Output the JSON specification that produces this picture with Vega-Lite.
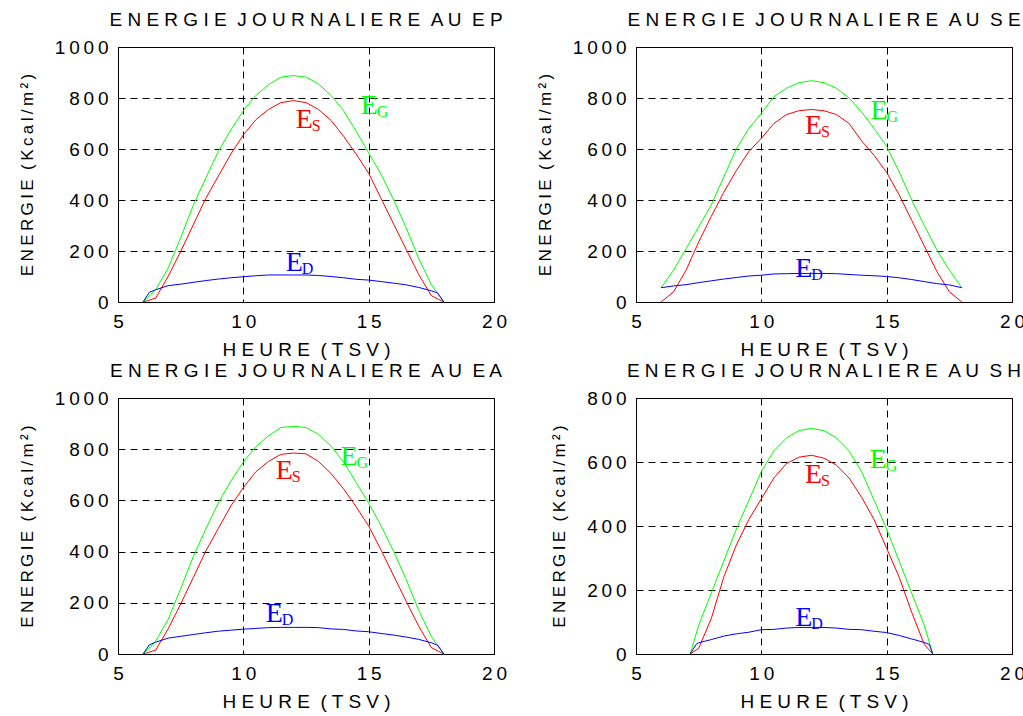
{
"$schema":"https://vega.github.io/schema/vega-lite/v6.json",
"background":"white",
"padding":{"left":17,"top":10,"right":5,"bottom":0},
"bounds":"flush",
"columns":2,
"spacing":{"row":96,"column":142},
"datasets":{
"curves":[
{"p":"EP","s":"ES","h":6,"v":0},{"p":"EP","s":"ES","h":6.5,"v":15},{"p":"EP","s":"ES","h":7,"v":100},{"p":"EP","s":"ES","h":7.5,"v":198},{"p":"EP","s":"ES","h":8,"v":302},{"p":"EP","s":"ES","h":8.5,"v":406},{"p":"EP","s":"ES","h":9,"v":493},{"p":"EP","s":"ES","h":9.5,"v":580},{"p":"EP","s":"ES","h":10,"v":655},{"p":"EP","s":"ES","h":10.5,"v":715},{"p":"EP","s":"ES","h":11,"v":755},{"p":"EP","s":"ES","h":11.5,"v":782},{"p":"EP","s":"ES","h":12,"v":790},{"p":"EP","s":"ES","h":12.5,"v":782},{"p":"EP","s":"ES","h":13,"v":755},{"p":"EP","s":"ES","h":13.5,"v":712},{"p":"EP","s":"ES","h":14,"v":650},{"p":"EP","s":"ES","h":14.5,"v":580},{"p":"EP","s":"ES","h":15,"v":505},{"p":"EP","s":"ES","h":15.5,"v":405},{"p":"EP","s":"ES","h":16,"v":305},{"p":"EP","s":"ES","h":16.5,"v":206},{"p":"EP","s":"ES","h":17,"v":107},{"p":"EP","s":"ES","h":17.5,"v":25},{"p":"EP","s":"ES","h":18,"v":0},
{"p":"EP","s":"EG","h":6,"v":0},{"p":"EP","s":"EG","h":6.5,"v":48},{"p":"EP","s":"EG","h":7,"v":133},{"p":"EP","s":"EG","h":7.5,"v":252},{"p":"EP","s":"EG","h":8,"v":378},{"p":"EP","s":"EG","h":8.5,"v":486},{"p":"EP","s":"EG","h":9,"v":590},{"p":"EP","s":"EG","h":9.5,"v":675},{"p":"EP","s":"EG","h":10,"v":750},{"p":"EP","s":"EG","h":10.5,"v":810},{"p":"EP","s":"EG","h":11,"v":852},{"p":"EP","s":"EG","h":11.5,"v":882},{"p":"EP","s":"EG","h":12,"v":888},{"p":"EP","s":"EG","h":12.5,"v":882},{"p":"EP","s":"EG","h":13,"v":855},{"p":"EP","s":"EG","h":13.5,"v":810},{"p":"EP","s":"EG","h":14,"v":750},{"p":"EP","s":"EG","h":14.5,"v":670},{"p":"EP","s":"EG","h":15,"v":585},{"p":"EP","s":"EG","h":15.5,"v":500},{"p":"EP","s":"EG","h":16,"v":400},{"p":"EP","s":"EG","h":16.5,"v":290},{"p":"EP","s":"EG","h":17,"v":170},{"p":"EP","s":"EG","h":17.5,"v":68},{"p":"EP","s":"EG","h":18,"v":0},
{"p":"EP","s":"ED","h":6,"v":0},{"p":"EP","s":"ED","h":6.25,"v":38},{"p":"EP","s":"ED","h":6.5,"v":48},{"p":"EP","s":"ED","h":7,"v":64},{"p":"EP","s":"ED","h":7.5,"v":70},{"p":"EP","s":"ED","h":8,"v":77},{"p":"EP","s":"ED","h":8.5,"v":84},{"p":"EP","s":"ED","h":9,"v":90},{"p":"EP","s":"ED","h":9.5,"v":95},{"p":"EP","s":"ED","h":10,"v":99},{"p":"EP","s":"ED","h":10.5,"v":103},{"p":"EP","s":"ED","h":11,"v":106},{"p":"EP","s":"ED","h":11.5,"v":106},{"p":"EP","s":"ED","h":12,"v":106},{"p":"EP","s":"ED","h":12.5,"v":106},{"p":"EP","s":"ED","h":13,"v":104},{"p":"EP","s":"ED","h":13.5,"v":100},{"p":"EP","s":"ED","h":14,"v":95},{"p":"EP","s":"ED","h":14.5,"v":89},{"p":"EP","s":"ED","h":15,"v":86},{"p":"EP","s":"ED","h":15.5,"v":80},{"p":"EP","s":"ED","h":16,"v":74},{"p":"EP","s":"ED","h":16.5,"v":67},{"p":"EP","s":"ED","h":17,"v":57},{"p":"EP","s":"ED","h":17.5,"v":44},{"p":"EP","s":"ED","h":17.75,"v":35},{"p":"EP","s":"ED","h":18,"v":0},
{"p":"SE","s":"EG","h":6,"v":56},{"p":"SE","s":"EG","h":6.5,"v":125},{"p":"SE","s":"EG","h":7,"v":210},{"p":"SE","s":"EG","h":7.5,"v":295},{"p":"SE","s":"EG","h":8,"v":380},{"p":"SE","s":"EG","h":8.5,"v":490},{"p":"SE","s":"EG","h":9,"v":600},{"p":"SE","s":"EG","h":9.5,"v":680},{"p":"SE","s":"EG","h":10,"v":740},{"p":"SE","s":"EG","h":10.5,"v":805},{"p":"SE","s":"EG","h":11,"v":838},{"p":"SE","s":"EG","h":11.5,"v":860},{"p":"SE","s":"EG","h":12,"v":868},{"p":"SE","s":"EG","h":12.5,"v":860},{"p":"SE","s":"EG","h":13,"v":838},{"p":"SE","s":"EG","h":13.5,"v":800},{"p":"SE","s":"EG","h":14,"v":745},{"p":"SE","s":"EG","h":14.5,"v":680},{"p":"SE","s":"EG","h":15,"v":610},{"p":"SE","s":"EG","h":15.5,"v":510},{"p":"SE","s":"EG","h":16,"v":400},{"p":"SE","s":"EG","h":16.5,"v":300},{"p":"SE","s":"EG","h":17,"v":205},{"p":"SE","s":"EG","h":17.5,"v":125},{"p":"SE","s":"EG","h":18,"v":56},
{"p":"SE","s":"ES","h":6,"v":0},{"p":"SE","s":"ES","h":6.5,"v":40},{"p":"SE","s":"ES","h":7,"v":125},{"p":"SE","s":"ES","h":7.5,"v":235},{"p":"SE","s":"ES","h":8,"v":335},{"p":"SE","s":"ES","h":8.5,"v":430},{"p":"SE","s":"ES","h":9,"v":515},{"p":"SE","s":"ES","h":9.5,"v":590},{"p":"SE","s":"ES","h":10,"v":642},{"p":"SE","s":"ES","h":10.5,"v":700},{"p":"SE","s":"ES","h":11,"v":735},{"p":"SE","s":"ES","h":11.5,"v":750},{"p":"SE","s":"ES","h":12,"v":755},{"p":"SE","s":"ES","h":12.5,"v":750},{"p":"SE","s":"ES","h":13,"v":735},{"p":"SE","s":"ES","h":13.5,"v":700},{"p":"SE","s":"ES","h":14,"v":632},{"p":"SE","s":"ES","h":14.5,"v":575},{"p":"SE","s":"ES","h":15,"v":508},{"p":"SE","s":"ES","h":15.5,"v":420},{"p":"SE","s":"ES","h":16,"v":320},{"p":"SE","s":"ES","h":16.5,"v":220},{"p":"SE","s":"ES","h":17,"v":120},{"p":"SE","s":"ES","h":17.5,"v":40},{"p":"SE","s":"ES","h":18,"v":0},
{"p":"SE","s":"ED","h":6,"v":56},{"p":"SE","s":"ED","h":6.5,"v":63},{"p":"SE","s":"ED","h":7,"v":68},{"p":"SE","s":"ED","h":7.5,"v":76},{"p":"SE","s":"ED","h":8,"v":83},{"p":"SE","s":"ED","h":8.5,"v":90},{"p":"SE","s":"ED","h":9,"v":96},{"p":"SE","s":"ED","h":9.5,"v":102},{"p":"SE","s":"ED","h":10,"v":105},{"p":"SE","s":"ED","h":10.5,"v":110},{"p":"SE","s":"ED","h":11,"v":111},{"p":"SE","s":"ED","h":11.5,"v":112},{"p":"SE","s":"ED","h":12,"v":112},{"p":"SE","s":"ED","h":12.5,"v":112},{"p":"SE","s":"ED","h":13,"v":111},{"p":"SE","s":"ED","h":13.5,"v":108},{"p":"SE","s":"ED","h":14,"v":105},{"p":"SE","s":"ED","h":14.5,"v":103},{"p":"SE","s":"ED","h":15,"v":100},{"p":"SE","s":"ED","h":15.5,"v":95},{"p":"SE","s":"ED","h":16,"v":88},{"p":"SE","s":"ED","h":16.5,"v":80},{"p":"SE","s":"ED","h":17,"v":72},{"p":"SE","s":"ED","h":17.5,"v":67},{"p":"SE","s":"ED","h":18,"v":56},
{"p":"EA","s":"ES","h":6,"v":0},{"p":"EA","s":"ES","h":6.5,"v":15},{"p":"EA","s":"ES","h":7,"v":98},{"p":"EA","s":"ES","h":7.5,"v":195},{"p":"EA","s":"ES","h":8,"v":298},{"p":"EA","s":"ES","h":8.5,"v":402},{"p":"EA","s":"ES","h":9,"v":490},{"p":"EA","s":"ES","h":9.5,"v":578},{"p":"EA","s":"ES","h":10,"v":650},{"p":"EA","s":"ES","h":10.5,"v":712},{"p":"EA","s":"ES","h":11,"v":752},{"p":"EA","s":"ES","h":11.5,"v":780},{"p":"EA","s":"ES","h":12,"v":785},{"p":"EA","s":"ES","h":12.5,"v":782},{"p":"EA","s":"ES","h":13,"v":752},{"p":"EA","s":"ES","h":13.5,"v":705},{"p":"EA","s":"ES","h":14,"v":645},{"p":"EA","s":"ES","h":14.5,"v":575},{"p":"EA","s":"ES","h":15,"v":500},{"p":"EA","s":"ES","h":15.5,"v":405},{"p":"EA","s":"ES","h":16,"v":305},{"p":"EA","s":"ES","h":16.5,"v":205},{"p":"EA","s":"ES","h":17,"v":108},{"p":"EA","s":"ES","h":17.5,"v":25},{"p":"EA","s":"ES","h":18,"v":0},
{"p":"EA","s":"EG","h":6,"v":0},{"p":"EA","s":"EG","h":6.5,"v":50},{"p":"EA","s":"EG","h":7,"v":135},{"p":"EA","s":"EG","h":7.5,"v":255},{"p":"EA","s":"EG","h":8,"v":380},{"p":"EA","s":"EG","h":8.5,"v":488},{"p":"EA","s":"EG","h":9,"v":590},{"p":"EA","s":"EG","h":9.5,"v":675},{"p":"EA","s":"EG","h":10,"v":750},{"p":"EA","s":"EG","h":10.5,"v":810},{"p":"EA","s":"EG","h":11,"v":852},{"p":"EA","s":"EG","h":11.5,"v":885},{"p":"EA","s":"EG","h":12,"v":889},{"p":"EA","s":"EG","h":12.5,"v":885},{"p":"EA","s":"EG","h":13,"v":858},{"p":"EA","s":"EG","h":13.5,"v":812},{"p":"EA","s":"EG","h":14,"v":750},{"p":"EA","s":"EG","h":14.5,"v":670},{"p":"EA","s":"EG","h":15,"v":590},{"p":"EA","s":"EG","h":15.5,"v":500},{"p":"EA","s":"EG","h":16,"v":400},{"p":"EA","s":"EG","h":16.5,"v":290},{"p":"EA","s":"EG","h":17,"v":170},{"p":"EA","s":"EG","h":17.5,"v":68},{"p":"EA","s":"EG","h":18,"v":0},
{"p":"EA","s":"ED","h":6,"v":0},{"p":"EA","s":"ED","h":6.25,"v":36},{"p":"EA","s":"ED","h":6.5,"v":46},{"p":"EA","s":"ED","h":7,"v":62},{"p":"EA","s":"ED","h":7.5,"v":69},{"p":"EA","s":"ED","h":8,"v":76},{"p":"EA","s":"ED","h":8.5,"v":83},{"p":"EA","s":"ED","h":9,"v":89},{"p":"EA","s":"ED","h":9.5,"v":93},{"p":"EA","s":"ED","h":10,"v":97},{"p":"EA","s":"ED","h":10.5,"v":100},{"p":"EA","s":"ED","h":11,"v":103},{"p":"EA","s":"ED","h":11.5,"v":104},{"p":"EA","s":"ED","h":12,"v":104},{"p":"EA","s":"ED","h":12.5,"v":104},{"p":"EA","s":"ED","h":13,"v":103},{"p":"EA","s":"ED","h":13.5,"v":98},{"p":"EA","s":"ED","h":14,"v":96},{"p":"EA","s":"ED","h":14.5,"v":90},{"p":"EA","s":"ED","h":15,"v":87},{"p":"EA","s":"ED","h":15.5,"v":80},{"p":"EA","s":"ED","h":16,"v":74},{"p":"EA","s":"ED","h":16.5,"v":66},{"p":"EA","s":"ED","h":17,"v":57},{"p":"EA","s":"ED","h":17.5,"v":44},{"p":"EA","s":"ED","h":17.75,"v":34},{"p":"EA","s":"ED","h":18,"v":0},
{"p":"SH","s":"EG","h":7.16,"v":0},{"p":"SH","s":"EG","h":7.5,"v":90},{"p":"SH","s":"EG","h":8,"v":190},{"p":"SH","s":"EG","h":8.5,"v":290},{"p":"SH","s":"EG","h":9,"v":390},{"p":"SH","s":"EG","h":9.5,"v":480},{"p":"SH","s":"EG","h":10,"v":570},{"p":"SH","s":"EG","h":10.5,"v":635},{"p":"SH","s":"EG","h":11,"v":675},{"p":"SH","s":"EG","h":11.5,"v":698},{"p":"SH","s":"EG","h":12,"v":705},{"p":"SH","s":"EG","h":12.5,"v":698},{"p":"SH","s":"EG","h":13,"v":675},{"p":"SH","s":"EG","h":13.5,"v":635},{"p":"SH","s":"EG","h":14,"v":570},{"p":"SH","s":"EG","h":14.5,"v":480},{"p":"SH","s":"EG","h":15,"v":390},{"p":"SH","s":"EG","h":15.5,"v":290},{"p":"SH","s":"EG","h":16,"v":190},{"p":"SH","s":"EG","h":16.5,"v":90},{"p":"SH","s":"EG","h":16.84,"v":0},
{"p":"SH","s":"ES","h":7.16,"v":0},{"p":"SH","s":"ES","h":7.5,"v":18},{"p":"SH","s":"ES","h":8,"v":110},{"p":"SH","s":"ES","h":8.5,"v":240},{"p":"SH","s":"ES","h":9,"v":340},{"p":"SH","s":"ES","h":9.5,"v":420},{"p":"SH","s":"ES","h":10,"v":485},{"p":"SH","s":"ES","h":10.5,"v":550},{"p":"SH","s":"ES","h":11,"v":595},{"p":"SH","s":"ES","h":11.5,"v":615},{"p":"SH","s":"ES","h":12,"v":621},{"p":"SH","s":"ES","h":12.5,"v":612},{"p":"SH","s":"ES","h":13,"v":590},{"p":"SH","s":"ES","h":13.5,"v":550},{"p":"SH","s":"ES","h":14,"v":490},{"p":"SH","s":"ES","h":14.5,"v":420},{"p":"SH","s":"ES","h":15,"v":330},{"p":"SH","s":"ES","h":15.5,"v":240},{"p":"SH","s":"ES","h":16,"v":130},{"p":"SH","s":"ES","h":16.5,"v":30},{"p":"SH","s":"ES","h":16.84,"v":0},
{"p":"SH","s":"ED","h":7.16,"v":0},{"p":"SH","s":"ED","h":7.4,"v":30},{"p":"SH","s":"ED","h":7.5,"v":35},{"p":"SH","s":"ED","h":8,"v":45},{"p":"SH","s":"ED","h":8.5,"v":56},{"p":"SH","s":"ED","h":9,"v":63},{"p":"SH","s":"ED","h":9.5,"v":68},{"p":"SH","s":"ED","h":10,"v":76},{"p":"SH","s":"ED","h":10.5,"v":77},{"p":"SH","s":"ED","h":11,"v":81},{"p":"SH","s":"ED","h":11.5,"v":83},{"p":"SH","s":"ED","h":12,"v":83},{"p":"SH","s":"ED","h":12.5,"v":83},{"p":"SH","s":"ED","h":13,"v":81},{"p":"SH","s":"ED","h":13.5,"v":77},{"p":"SH","s":"ED","h":14,"v":76},{"p":"SH","s":"ED","h":14.5,"v":71},{"p":"SH","s":"ED","h":15,"v":67},{"p":"SH","s":"ED","h":15.5,"v":58},{"p":"SH","s":"ED","h":16,"v":47},{"p":"SH","s":"ED","h":16.5,"v":36},{"p":"SH","s":"ED","h":16.7,"v":30},{"p":"SH","s":"ED","h":16.84,"v":0}
],
"labels":[
{"p":"EP","s":"EG","main":"E","sub":"G","h":14.68,"v":738},{"p":"EP","s":"ES","main":"E","sub":"S","h":12.09,"v":681},{"p":"EP","s":"ED","main":"E","sub":"D","h":11.69,"v":122},
{"p":"SE","s":"EG","main":"E","sub":"G","h":14.36,"v":716},{"p":"SE","s":"ES","main":"E","sub":"S","h":11.74,"v":659},{"p":"SE","s":"ED","main":"E","sub":"D","h":11.35,"v":100},
{"p":"EA","s":"EG","main":"E","sub":"G","h":13.88,"v":738},{"p":"EA","s":"ES","main":"E","sub":"S","h":11.29,"v":682},{"p":"EA","s":"ED","main":"E","sub":"D","h":10.89,"v":126},
{"p":"SH","s":"EG","main":"E","sub":"G","h":14.33,"v":580},{"p":"SH","s":"ES","main":"E","sub":"S","h":11.74,"v":535},{"p":"SH","s":"ED","main":"E","sub":"D","h":11.35,"v":88}
]
},
"concat":[
{"title":{"text":"E N E R G I E\u00a0\u00a0J O U R N A L I E R E\u00a0\u00a0A U\u00a0\u00a0E P"},"width":376,"height":255,
"layer":[
{"data":{"name":"curves"},"transform":[{"filter":"datum.p==='EP'"}],"mark":{"type":"line","strokeWidth":1},
"encoding":{"x":{"field":"h","type":"quantitative","scale":{"domain":[5,20],"nice":false,"zero":false},"axis":{"values":[5,10,15,20],"format":"d","labelExpr":"join(split(datum.label,''),'\u2009')","title":"H E U R E\u00a0\u00a0( T S V )"}},
"y":{"field":"v","type":"quantitative","scale":{"domain":[0,1000],"nice":false},"axis":{"values":[0,200,400,600,800,1000],"format":"d","labelExpr":"join(split(datum.label,''),'\u2009')","title":"E\u2009N\u2009E\u2009R\u2009G\u2009I\u2009E\u00a0\u00a0(\u2009K\u2009c\u2009a\u2009l\u2009/\u2009m\u2009²\u2009)"}},
"color":{"field":"s","type":"nominal","scale":{"domain":["EG","ES","ED"],"range":["#00ff00","#ff0000","#0000ff"]},"legend":null}}},
{"data":{"name":"labels"},"transform":[{"filter":"datum.p==='EP'"}],"mark":{"type":"text","font":"Liberation Serif","fontSize":28,"align":"left","baseline":"alphabetic"},
"encoding":{"x":{"field":"h","type":"quantitative"},"y":{"field":"v","type":"quantitative"},"text":{"field":"main"},"color":{"field":"s","type":"nominal","legend":null}}},
{"data":{"name":"labels"},"transform":[{"filter":"datum.p==='EP'"}],"mark":{"type":"text","font":"Liberation Serif","fontSize":16,"align":"left","baseline":"alphabetic","dx":16,"dy":3},
"encoding":{"x":{"field":"h","type":"quantitative"},"y":{"field":"v","type":"quantitative"},"text":{"field":"sub"},"color":{"field":"s","type":"nominal","legend":null}}}
]},
{"title":{"text":"E N E R G I E\u00a0\u00a0J O U R N A L I E R E\u00a0\u00a0A U\u00a0\u00a0S E"},"width":376,"height":255,
"layer":[
{"data":{"name":"curves"},"transform":[{"filter":"datum.p==='SE'"}],"mark":{"type":"line","strokeWidth":1},
"encoding":{"x":{"field":"h","type":"quantitative","scale":{"domain":[5,20],"nice":false,"zero":false},"axis":{"values":[5,10,15,20],"format":"d","labelExpr":"join(split(datum.label,''),'\u2009')","title":"H E U R E\u00a0\u00a0( T S V )"}},
"y":{"field":"v","type":"quantitative","scale":{"domain":[0,1000],"nice":false},"axis":{"values":[0,200,400,600,800,1000],"format":"d","labelExpr":"join(split(datum.label,''),'\u2009')","title":"E\u2009N\u2009E\u2009R\u2009G\u2009I\u2009E\u00a0\u00a0(\u2009K\u2009c\u2009a\u2009l\u2009/\u2009m\u2009²\u2009)"}},
"color":{"field":"s","type":"nominal","scale":{"domain":["EG","ES","ED"],"range":["#00ff00","#ff0000","#0000ff"]},"legend":null}}},
{"data":{"name":"labels"},"transform":[{"filter":"datum.p==='SE'"}],"mark":{"type":"text","font":"Liberation Serif","fontSize":28,"align":"left","baseline":"alphabetic"},
"encoding":{"x":{"field":"h","type":"quantitative"},"y":{"field":"v","type":"quantitative"},"text":{"field":"main"},"color":{"field":"s","type":"nominal","legend":null}}},
{"data":{"name":"labels"},"transform":[{"filter":"datum.p==='SE'"}],"mark":{"type":"text","font":"Liberation Serif","fontSize":16,"align":"left","baseline":"alphabetic","dx":16,"dy":3},
"encoding":{"x":{"field":"h","type":"quantitative"},"y":{"field":"v","type":"quantitative"},"text":{"field":"sub"},"color":{"field":"s","type":"nominal","legend":null}}}
]},
{"title":{"text":"E N E R G I E\u00a0\u00a0J O U R N A L I E R E\u00a0\u00a0A U\u00a0\u00a0E A"},"width":376,"height":256,
"layer":[
{"data":{"name":"curves"},"transform":[{"filter":"datum.p==='EA'"}],"mark":{"type":"line","strokeWidth":1},
"encoding":{"x":{"field":"h","type":"quantitative","scale":{"domain":[5,20],"nice":false,"zero":false},"axis":{"values":[5,10,15,20],"format":"d","labelExpr":"join(split(datum.label,''),'\u2009')","title":"H E U R E\u00a0\u00a0( T S V )"}},
"y":{"field":"v","type":"quantitative","scale":{"domain":[0,1000],"nice":false},"axis":{"values":[0,200,400,600,800,1000],"format":"d","labelExpr":"join(split(datum.label,''),'\u2009')","title":"E\u2009N\u2009E\u2009R\u2009G\u2009I\u2009E\u00a0\u00a0(\u2009K\u2009c\u2009a\u2009l\u2009/\u2009m\u2009²\u2009)"}},
"color":{"field":"s","type":"nominal","scale":{"domain":["EG","ES","ED"],"range":["#00ff00","#ff0000","#0000ff"]},"legend":null}}},
{"data":{"name":"labels"},"transform":[{"filter":"datum.p==='EA'"}],"mark":{"type":"text","font":"Liberation Serif","fontSize":28,"align":"left","baseline":"alphabetic"},
"encoding":{"x":{"field":"h","type":"quantitative"},"y":{"field":"v","type":"quantitative"},"text":{"field":"main"},"color":{"field":"s","type":"nominal","legend":null}}},
{"data":{"name":"labels"},"transform":[{"filter":"datum.p==='EA'"}],"mark":{"type":"text","font":"Liberation Serif","fontSize":16,"align":"left","baseline":"alphabetic","dx":16,"dy":3},
"encoding":{"x":{"field":"h","type":"quantitative"},"y":{"field":"v","type":"quantitative"},"text":{"field":"sub"},"color":{"field":"s","type":"nominal","legend":null}}}
]},
{"title":{"text":"E N E R G I E\u00a0\u00a0J O U R N A L I E R E\u00a0\u00a0A U\u00a0\u00a0S H"},"width":376,"height":256,
"layer":[
{"data":{"name":"curves"},"transform":[{"filter":"datum.p==='SH'"}],"mark":{"type":"line","strokeWidth":1},
"encoding":{"x":{"field":"h","type":"quantitative","scale":{"domain":[5,20],"nice":false,"zero":false},"axis":{"values":[5,10,15,20],"format":"d","labelExpr":"join(split(datum.label,''),'\u2009')","title":"H E U R E\u00a0\u00a0( T S V )"}},
"y":{"field":"v","type":"quantitative","scale":{"domain":[0,800],"nice":false},"axis":{"values":[0,200,400,600,800],"format":"d","labelExpr":"join(split(datum.label,''),'\u2009')","title":"E\u2009N\u2009E\u2009R\u2009G\u2009I\u2009E\u00a0\u00a0(\u2009K\u2009c\u2009a\u2009l\u2009/\u2009m\u2009²\u2009)"}},
"color":{"field":"s","type":"nominal","scale":{"domain":["EG","ES","ED"],"range":["#00ff00","#ff0000","#0000ff"]},"legend":null}}},
{"data":{"name":"labels"},"transform":[{"filter":"datum.p==='SH'"}],"mark":{"type":"text","font":"Liberation Serif","fontSize":28,"align":"left","baseline":"alphabetic"},
"encoding":{"x":{"field":"h","type":"quantitative"},"y":{"field":"v","type":"quantitative"},"text":{"field":"main"},"color":{"field":"s","type":"nominal","legend":null}}},
{"data":{"name":"labels"},"transform":[{"filter":"datum.p==='SH'"}],"mark":{"type":"text","font":"Liberation Serif","fontSize":16,"align":"left","baseline":"alphabetic","dx":16,"dy":3},
"encoding":{"x":{"field":"h","type":"quantitative"},"y":{"field":"v","type":"quantitative"},"text":{"field":"sub"},"color":{"field":"s","type":"nominal","legend":null}}}
]}
],
"config":{
"view":{"stroke":"black","strokeWidth":1},
"font":"Liberation Sans",
"title":{"font":"Liberation Sans","fontSize":19,"fontWeight":"normal","color":"black","anchor":"middle","baseline":"alphabetic","offset":8},
"axis":{"labelFont":"Liberation Sans","labelFontSize":19,"labelColor":"black","labelPadding":10,"labelFlush":false,"labelOverlap":false,"titleFont":"Liberation Sans","titleFontSize":19,"titleFontWeight":"normal","titleColor":"black","grid":true,"gridColor":"black","gridDash":[7,5],"gridOpacity":1,"gridWidth":1,"ticks":false,"domain":false},
"axisX":{"titlePadding":9},
"axisY":{"titlePadding":18,"titleFontSize":17}
}
}
